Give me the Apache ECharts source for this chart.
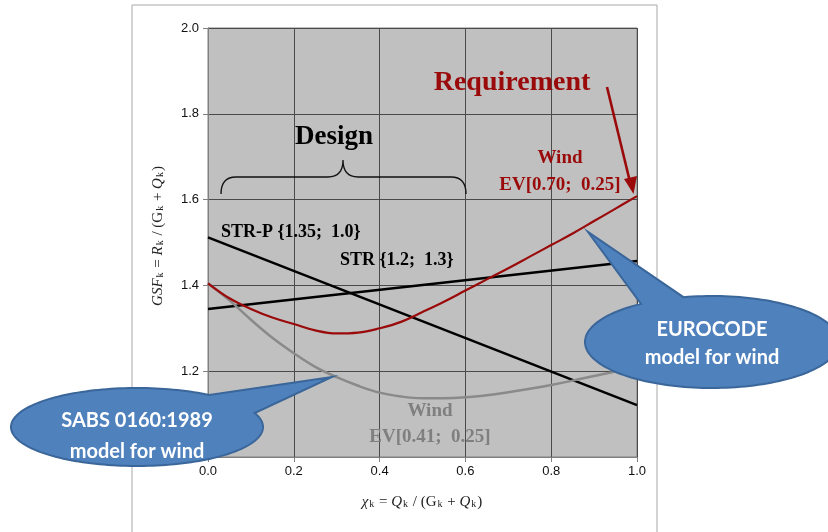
<!DOCTYPE html>
<html><head><meta charset="utf-8">
<script src="https://cdn.jsdelivr.net/npm/echarts@6/dist/echarts.min.js"></script>
<style>html,body{margin:0;padding:0;background:#fff}#c{width:828px;height:532px}</style>
</head><body><div id="c"></div>
<script>
// ---- data ----
const chi = [0, 0.05, 0.1, 0.15, 0.2, 0.25, 0.3, 0.35, 0.4, 0.45, 0.5, 0.55, 0.6, 0.65, 0.7, 0.75, 0.8, 0.85, 0.9, 0.95, 1.0];
const windEurocode = [1.405, 1.37, 1.345, 1.325, 1.31, 1.295, 1.288, 1.29, 1.30, 1.315, 1.338, 1.362, 1.388, 1.414, 1.44, 1.467, 1.494, 1.521, 1.55, 1.579, 1.608];
const windSABS = [1.405, 1.365, 1.32, 1.278, 1.242, 1.21, 1.186, 1.166, 1.15, 1.141, 1.137, 1.137, 1.139, 1.144, 1.151, 1.159, 1.168, 1.178, 1.189, 1.199, 1.21];
const lineX = [0, 1];
const strP = [1.512, 1.121];
const strC = [1.345, 1.457];
const xTickValues = [0, 0.2, 0.4, 0.6, 0.8, 1.0];
const yTickValues = [1.0, 1.2, 1.4, 1.6, 1.8, 2.0];

const pair = (xs, ys) => xs.map((x, i) => [x, ys[i]]);
const serif = 'Liberation Serif, Times New Roman, serif';
const red = '#9a0a0a';

// custom shapes
const CalloutShape = echarts.graphic.extendShape({
  shape: {cx: 0, cy: 0, rx: 10, ry: 10, t1: 0, t2: 30, tx: 0, ty: 0},
  buildPath(ctx, s) {
    const a1 = s.t2 * Math.PI / 180, a2 = (s.t1 + 360) * Math.PI / 180;
    const n = 160;
    for (let i = 0; i <= n; i++) {
      const a = a1 + (a2 - a1) * i / n;
      const x = s.cx + s.rx * Math.cos(a), y = s.cy + s.ry * Math.sin(a);
      if (i === 0) ctx.moveTo(x, y); else ctx.lineTo(x, y);
    }
    ctx.lineTo(s.tx, s.ty);
    ctx.closePath();
  }
});
echarts.graphic.registerShape('calloutShape', CalloutShape);
const BraceShape = echarts.graphic.extendShape({
  shape: {x1: 0, x2: 100, xm: 50, yEnd: 20, yBar: 10, yTip: 0, r: 15},
  buildPath(ctx, s) {
    ctx.moveTo(s.x1, s.yEnd);
    ctx.quadraticCurveTo(s.x1, s.yBar, s.x1 + s.r, s.yBar);
    ctx.lineTo(s.xm - s.r, s.yBar);
    ctx.quadraticCurveTo(s.xm, s.yBar, s.xm, s.yTip);
    ctx.quadraticCurveTo(s.xm, s.yBar, s.xm + s.r, s.yBar);
    ctx.lineTo(s.x2 - s.r, s.yBar);
    ctx.quadraticCurveTo(s.x2, s.yBar, s.x2, s.yEnd);
  }
});
echarts.graphic.registerShape('braceShape', BraceShape);

const chart = echarts.init(document.getElementById('c'), null, {renderer: 'canvas'});

function callout(shape, lines, ly, font) {
  return {
    type: 'group', z: 100, children: [
      {type: 'calloutShape', shape, style: {fill: '#4f81bd', stroke: '#3a669a', lineWidth: 2}, z: 100},
      {type: 'text', x: shape.cx, y: ly[0], z: 103, style: {text: lines[0], fill: '#fff', font, align: 'center', verticalAlign: 'middle'}},
      {type: 'text', x: shape.cx, y: ly[1], z: 103, style: {text: lines[1], fill: '#fff', font, align: 'center', verticalAlign: 'middle'}}
    ]
  };
}

const richTitle = {
  i: {fontFamily: serif, fontStyle: 'italic', fontSize: 15, fill: '#222'},
  n: {fontFamily: serif, fontSize: 15, fill: '#222'},
  s: {fontFamily: serif, fontSize: 10, fill: '#222', padding: [5, 1, 0, 1]}
};

const option = {
  animation: false,
  backgroundColor: '#fff',
  grid: {left: 208, right: 191, top: 28, bottom: 75, show: true, backgroundColor: '#c0c0c0', borderColor: '#808080', borderWidth: 1},
  xAxis: {
    type: 'value', min: 0, max: 1, interval: 0.2, z: 2,
    axisLine: {show: true, lineStyle: {color: '#808080'}},
    axisTick: {show: true, length: 5, lineStyle: {color: '#808080'}},
    axisLabel: {color: '#111', fontFamily: 'Liberation Sans, Arial', fontSize: 13, margin: 8, formatter: v => v.toFixed(1)},
    splitLine: {show: true, lineStyle: {color: '#4a4a4a', width: 1}}
  },
  yAxis: {
    type: 'value', min: 1, max: 2, interval: 0.2, z: 2,
    axisLine: {show: true, lineStyle: {color: '#808080'}},
    axisTick: {show: true, length: 5, lineStyle: {color: '#808080'}},
    axisLabel: {color: '#111', fontFamily: 'Liberation Sans, Arial', fontSize: 13, margin: 9, formatter: v => v.toFixed(1)},
    splitLine: {show: true, lineStyle: {color: '#4a4a4a', width: 1}}
  },
  series: [
    {type: 'line', data: pair(lineX, strP), showSymbol: false, lineStyle: {color: '#000', width: 2.5}, z: 3},
    {type: 'line', data: pair(lineX, strC), showSymbol: false, lineStyle: {color: '#000', width: 2.5}, z: 3},
    {type: 'line', data: pair(chi, windSABS), smooth: 0.4, showSymbol: false, lineStyle: {color: '#8a8a8a', width: 2.5}, z: 4},
    {type: 'line', data: pair(chi, windEurocode), smooth: 0.4, showSymbol: false, lineStyle: {color: red, width: 2.2}, z: 5}
  ],
  graphic: [
    {type: 'rect', z: -1, shape: {x: 132, y: 5, width: 525, height: 540}, style: {fill: '#fff', stroke: '#a8a8a8', lineWidth: 1}},
    {type: 'text', x: 158, y: 236, rotation: Math.PI / 2, z: 10, style: {
      text: '{i|GSF}{s|k}{n| = }{i|R}{s|k}{n| / (G}{s|k}{n| + }{i|Q}{s|k}{n|)}', align: 'center', verticalAlign: 'middle', rich: richTitle}},
    {type: 'text', x: 422, y: 502, z: 10, style: {
      text: '{i|χ}{s|k}{n| = }{i|Q}{s|k}{n| / (G}{s|k}{n| + }{i|Q}{s|k}{n|)}', align: 'center', verticalAlign: 'middle', rich: richTitle}},
    {type: 'text', x: 512, y: 83, z: 20, style: {text: 'Requirement', font: 'bold 28px ' + serif, fill: red, align: 'center', verticalAlign: 'middle'}},
    {type: 'line', z: 20, shape: {x1: 607, y1: 87, x2: 630, y2: 182}, style: {stroke: red, lineWidth: 2.6}},
    {type: 'polygon', z: 20, shape: {points: [[633.5, 194], [624, 179], [637, 176]]}, style: {fill: red}},
    {type: 'text', x: 560, y: 158, z: 20, style: {text: 'Wind', font: 'bold 19px ' + serif, fill: red, align: 'center', verticalAlign: 'middle'}},
    {type: 'text', x: 560, y: 185, z: 20, style: {text: 'EV[0.70;  0.25]', font: 'bold 19px ' + serif, fill: red, align: 'center', verticalAlign: 'middle'}},
    {type: 'text', x: 334, y: 137, z: 20, style: {text: 'Design', font: 'bold 27px ' + serif, fill: '#000', align: 'center', verticalAlign: 'middle'}},
    {type: 'braceShape', z: 20, shape: {x1: 221, x2: 466, xm: 343, yEnd: 194, yBar: 177, yTip: 160, r: 15}, style: {fill: null, stroke: '#111', lineWidth: 1.3}},
    {type: 'text', x: 221, y: 232, z: 20, style: {text: 'STR-P {1.35;  1.0}', font: 'bold 18px ' + serif, fill: '#000', align: 'left', verticalAlign: 'middle'}},
    {type: 'text', x: 340, y: 260, z: 20, style: {text: 'STR {1.2;  1.3}', font: 'bold 18px ' + serif, fill: '#000', align: 'left', verticalAlign: 'middle'}},
    {type: 'text', x: 430, y: 411, z: 20, style: {text: 'Wind', font: 'bold 19px ' + serif, fill: '#7f7f7f', align: 'center', verticalAlign: 'middle'}},
    {type: 'text', x: 430, y: 437, z: 20, style: {text: 'EV[0.41;  0.25]', font: 'bold 19px ' + serif, fill: '#7f7f7f', align: 'center', verticalAlign: 'middle'}},
    callout({cx: 137, cy: 427, rx: 126, ry: 39, t1: -55, t2: -21, tx: 332, ty: 377}, ['SABS 0160:1989', 'model for wind'], [421, 452], 'bold 20px Lato, sans-serif'),
    callout({cx: 712, cy: 342, rx: 127, ry: 46, t1: -124, t2: -103, tx: 588, ty: 232}, ['EUROCODE', 'model for wind'], [330, 358], 'bold 20px Lato, sans-serif')
  ]
};
chart.setOption(option);
</script>
</body></html>
